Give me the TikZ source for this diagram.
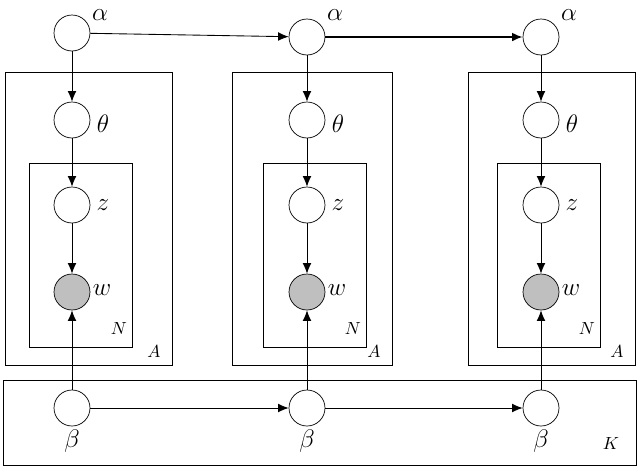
\documentclass[tikz,border=0pt]{standalone}
\usetikzlibrary{arrows.meta}
\begin{document}
\begin{tikzpicture}[x=0.02cm,y=-0.02cm,
  var/.style={circle,draw,fill=white,minimum size=0.72cm,inner sep=0pt},
  obs/.style={var,fill=black!25},
  plate/.style={draw,line width=0.5pt},
  lbl/.style={font=\Large},
  plbl/.style={font=\normalsize},
  arr/.style={-{Latex[length=6pt,width=5pt]},line width=0.5pt}]
\useasboundingbox (0,0) rectangle (640,468);
\foreach \i/\x/\y/\l/\r/\il/\ir in {1/72/33/5/172/29/132, 2/307/37/232/392/263/366, 3/541/37/468/635/497/600}{
  \draw[plate] (\l,72) rectangle (\r,365);
  \draw[plate,line width=0.4pt] (\il,163) rectangle (\ir,347);
  \node[plbl] (N\i) at (\ir-13,328) {$N$};
  \node[plbl] (A\i) at (\r-18,351) {$A$};
  \node[var] (a\i) at (\x,\y) {};
  \node[var] (t\i) at (\x,120) {};
  \node[var] (z\i) at (\x,205) {};
  \node[obs] (w\i) at (\x,292) {};
  \node[var] (b\i) at (\x,408) {};
  \node[lbl] (la\i) at (\x+28,15) {$\alpha$};
  \node[lbl] (lt\i) at (\x+31,124) {$\theta$};
  \node[lbl] (lz\i) at (\x+31,205) {$z$};
  \node[lbl] (lw\i) at (\x+30,290) {$w$};
  \node[lbl] (lb\i) at (\x,441) {$\beta$};
  \draw[arr] (a\i) -- (t\i);
  \draw[arr] (t\i) -- (z\i);
  \draw[arr] (z\i) -- (w\i);
  \draw[arr] (b\i) -- (w\i);
}
\draw[plate] (3,380) rectangle (636,465);
\node[plbl] (K) at (611,443) {$K$};
\draw[arr] (a1) -- (a2);
\draw[arr,line width=1pt] (a2) -- (a3);
\draw[arr] (b1) -- (b2);
\draw[arr] (b2) -- (b3);
\end{tikzpicture}
\end{document}
